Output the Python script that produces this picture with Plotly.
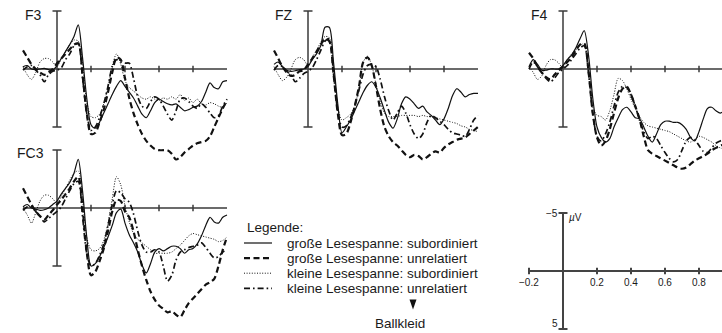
import plotly.graph_objects as go

# ---------------------------------------------------------------------------
# ERP grand averages (µV, negative plotted upward), time in seconds
# ---------------------------------------------------------------------------
times = [-0.2, -0.175, -0.15, -0.125, -0.1, -0.075, -0.05, -0.025,
         0.0, 0.025, 0.05, 0.075, 0.1, 0.125, 0.15, 0.175,
         0.2, 0.225, 0.25, 0.275, 0.3, 0.325, 0.35, 0.375,
         0.4, 0.425, 0.45, 0.475, 0.5, 0.525, 0.55, 0.575,
         0.6, 0.625, 0.65, 0.675, 0.7, 0.725, 0.75, 0.775,
         0.8, 0.825, 0.85, 0.875, 0.9, 0.925, 0.95, 0.975,
         1.0]

condition_labels = ["große Lesespanne: subordiniert",
                    "große Lesespanne: unrelatiert",
                    "kleine Lesespanne: subordiniert",
                    "kleine Lesespanne: unrelatiert"]

electrodes = ["F3", "FZ", "F4", "FC3"]

f3_gross_sub = [-0.2, -0.3, 0.0, 0.05, 0.0, -0.05, 0.05, 0.1,
                -0.3, -0.9, -1.5, -2.1, -2.8, -3.8, -1.0, 2.5,
                4.8, 5.1, 4.6, 3.8, 3.0, 2.2, 1.5, 1.0,
                1.5, 2.0, 2.5, 3.2, 3.9, 4.2, 3.6, 2.9,
                2.6, 2.8, 3.0, 3.1, 3.0, 3.3, 3.6, 3.5,
                3.3, 3.2, 2.8, 2.0, 1.2, 1.6, 1.7, 1.1,
                1.0]
f3_gross_unrel = [-1.6, -1.0, -0.4, 0.0, 0.3, 0.5, 0.3, 0.0,
                  -0.5, -0.9, -1.3, -1.7, -2.1, -2.2, 0.5, 3.8,
                  5.6, 5.5, 4.6, 3.5, 2.0, 0.3, -1.0, -0.8,
                  0.8, 2.5, 3.8, 4.8, 5.6, 6.2, 6.6, 6.9,
                  7.0, 7.0, 7.0, 7.3, 7.8, 7.6, 7.2, 6.9,
                  6.6, 6.4, 6.3, 6.2, 5.8, 5.0, 4.2, 3.4,
                  2.7]
f3_klein_sub = [-0.2, 0.5, 0.9, 0.3, -0.6, -0.9, -0.9, -0.6,
                -0.2, -0.9, -1.5, -2.1, -2.5, -2.4, -0.5, 2.8,
                4.1, 4.2, 3.9, 3.0, 1.5, -0.3, -1.3, -0.4,
                1.0, 1.6, 1.9, 2.2, 2.5, 2.6, 2.4, 2.6,
                2.7, 2.5, 2.6, 2.4, 2.6, 2.2, 2.7, 2.5,
                2.9, 2.6, 3.0, 3.1, 2.9, 3.0, 3.2, 3.3,
                2.9]
f3_klein_unrel = [0.1, -0.2, -0.3, 0.1, 0.5, 1.1, 0.5, 0.2,
                  0.1, -0.1, -0.8, -1.3, -2.0, -2.2, 0.7, 3.8,
                  5.3, 5.0, 4.2, 3.0, 1.5, -0.2, -0.8, -0.6,
                  -0.5, -0.5, 0.8, 2.4, 3.2, 3.4, 2.8, 2.4,
                  2.6, 3.2, 3.9, 4.4, 3.6, 2.6, 2.5, 2.8,
                  3.2, 3.4, 3.0, 3.3, 3.8, 4.2, 4.0, 3.2,
                  2.6]

fz_gross_sub = [-0.4, -0.6, -0.2, 0.1, 0.2, 0.15, 0.05, 0.0,
                -0.2, -0.8, -1.3, -2.0, -3.6, -3.6, -0.6, 3.0,
                5.5, 5.0, 4.4, 3.6, 2.8, 2.0, 1.4, 1.1,
                1.6, 2.5, 3.6, 4.6, 5.1, 4.3, 3.0, 2.4,
                2.6, 3.0, 3.4, 3.2, 3.7, 4.0, 4.4, 4.8,
                4.3, 3.4, 2.3, 1.7, 2.0, 2.4, 2.2, 2.1,
                2.1]
fz_gross_unrel = [-1.6, -0.9, -0.2, 0.3, 0.6, 0.5, 0.2, 0.1,
                  -0.4, -0.9, -1.5, -2.1, -2.6, -2.4, 0.4, 3.8,
                  5.7, 5.6, 4.6, 3.2, 1.5, -0.6, -1.0, -0.3,
                  1.5, 3.5, 5.0, 5.8, 6.3, 6.6, 7.0, 7.4,
                  7.6, 7.4, 7.5, 7.8, 7.6, 7.3, 7.1, 7.2,
                  6.8, 6.5, 6.3, 6.1, 6.0, 5.9, 5.6, 5.3,
                  5.0]
fz_klein_sub = [-0.2, 0.5, 1.0, 0.7, 0.0, -0.8, -1.0, -0.8,
                -0.3, -1.0, -1.6, -2.3, -2.8, -2.7, -0.1, 3.2,
                4.4, 4.2, 3.9, 3.2, 1.6, -0.6, -1.1, -0.3,
                1.3, 2.8, 3.8, 4.1, 4.1, 4.1, 4.0, 4.0,
                4.0, 4.0, 4.1, 4.0, 4.1, 4.1, 4.2, 4.3,
                4.4, 4.5, 4.6, 4.7, 4.9, 5.0, 5.2, 5.3,
                5.4]
fz_klein_unrel = [0.1, -0.3, -0.2, 0.2, 0.5, 1.1, 0.8, 0.4,
                  0.2, -0.1, -0.8, -1.6, -2.4, -2.6, 0.4, 3.6,
                  5.0, 4.9, 4.2, 3.2, 1.8, 0.4, -0.3, -0.4,
                  -0.2, 0.9, 2.4, 3.6, 4.4, 3.8, 3.2, 3.8,
                  4.8, 5.6, 6.0, 5.6, 4.6, 4.0, 4.2, 4.5,
                  4.8, 5.2, 5.5, 5.6, 5.7, 5.8, 5.2, 4.4,
                  4.0]

f4_gross_sub = [-0.2, -0.8, -0.4, 0.1, 0.1, 0.0, 0.0, 0.0,
                -0.3, -0.8, -1.2, -1.8, -2.6, -3.3, -1.2, 2.5,
                5.0, 5.9, 6.3, 6.0, 5.0, 4.2, 3.5, 3.3,
                3.7, 4.2, 4.3, 5.0, 5.8, 6.3, 5.6, 4.8,
                4.5, 4.5, 4.6, 4.6, 4.8, 5.2, 5.9, 6.2,
                5.4, 4.3, 3.4, 3.3, 3.6, 3.8, 3.6, 3.4,
                3.3]
f4_gross_unrel = [-1.4, -0.9, -0.2, 0.3, 0.7, 0.9, 0.5, 0.1,
                  -0.2, -0.6, -1.0, -1.6, -2.1, -2.2, 0.2, 3.8,
                  5.9, 6.6, 6.2, 5.2, 3.8, 2.5, 1.7, 1.5,
                  2.2, 3.2, 4.3, 5.8, 7.0, 7.3, 7.5, 7.7,
                  7.9, 8.1, 8.3, 8.5, 8.6, 8.5, 8.2, 7.9,
                  7.7, 7.5, 7.3, 7.0, 6.8, 6.6, 6.5, 6.4,
                  6.3]
f4_klein_sub = [-0.2, 0.3, 0.9, 0.6, -0.3, -0.8, -0.8, -0.5,
                -0.1, -0.8, -1.3, -1.6, -2.0, -2.2, 0.3, 3.3,
                4.0, 4.1, 4.4, 3.6, 2.2, 0.8, 1.0, 1.7,
                2.6, 3.4, 4.1, 4.6, 4.9, 5.0, 5.1, 5.2,
                5.3, 5.4, 5.6, 5.8, 6.0, 6.2, 6.3, 6.1,
                5.8, 5.9, 6.1, 6.3, 6.6, 6.8, 6.9, 7.0,
                7.0]
f4_klein_unrel = [0.0, -0.6, -0.2, 0.3, 0.8, 1.1, 0.8, 0.3,
                  0.0, -0.3, -0.8, -1.3, -1.8, -2.0, 0.3, 3.8,
                  5.8, 6.2, 5.6, 4.6, 3.2, 2.0, 1.5, 1.6,
                  2.2, 3.2, 4.4, 5.4, 6.0, 5.8, 6.0, 6.6,
                  7.2, 7.7, 8.0, 7.8, 7.0, 6.2, 5.9, 6.1,
                  6.6, 7.1, 7.2, 6.8, 6.4, 6.2, 6.0, 6.0,
                  6.0]

fc3_gross_sub = [-0.1, -0.3, 0.0, 0.1, 0.2, 0.15, 0.0, -0.3,
                 -0.6, -1.2, -1.7, -2.2, -3.0, -4.2, -1.5, 2.5,
                 5.0, 4.8, 4.2, 3.4, 2.5, 1.5, 0.4, 0.1,
                 1.3, 2.3, 3.0, 3.8, 4.9, 5.6, 4.8, 3.8,
                 3.5, 3.7, 3.5, 3.3, 3.3, 3.5, 3.9, 3.6,
                 3.5, 3.1, 2.4, 1.5, 0.8, 1.2, 1.3, 0.8,
                 0.6]
fc3_gross_unrel = [-1.7, -1.0, -0.3, 0.3, 0.7, 1.0, 0.6, 0.2,
                   -0.3, -0.7, -1.2, -1.7, -2.3, -2.7, 0.0, 3.8,
                   5.8, 5.5, 4.6, 3.5, 2.0, 0.3, -0.7, -0.6,
                   0.3, 0.8, 2.0, 3.6, 5.0, 6.2, 7.2, 7.9,
                   8.4, 8.7, 9.0, 8.9, 9.2, 9.4, 8.8, 8.2,
                   7.8, 7.4, 7.0, 6.6, 6.4, 6.1, 5.0, 3.6,
                   2.5]
fc3_klein_sub = [0.0, 0.6, 1.3, 0.4, -0.6, -1.1, -1.1, -0.8,
                 -0.4, -1.0, -1.7, -2.4, -3.0, -3.2, -0.8, 2.5,
                 3.6, 3.7, 3.5, 2.8, 1.3, -0.8, -2.7, -2.0,
                 -0.2, 1.2, 2.2, 2.7, 3.0, 3.3, 3.6, 3.9,
                 3.9, 3.9, 3.9, 3.8, 3.5, 3.2, 2.8, 2.4,
                 2.2, 2.3, 2.4, 2.5, 2.6, 2.7, 2.9, 2.8,
                 2.5]
fc3_klein_unrel = [0.2, -0.1, -0.1, 0.3, 0.7, 1.2, 0.9, 0.6,
                   0.3, -0.1, -0.8, -1.5, -2.1, -2.3, 0.7, 3.9,
                   5.0, 4.8, 4.1, 3.1, 1.5, -0.3, -1.5, -1.3,
                   -0.8, -0.5, 0.5, 2.0, 3.2, 3.8, 3.8, 3.6,
                   3.8, 5.0, 6.3, 5.8, 4.5, 3.8, 3.6, 3.4,
                   3.3, 3.2, 3.0, 3.4, 3.9, 4.3, 4.2, 3.8,
                   3.6]

# calibration axis
scale_ticks = [-0.2, 0.2, 0.4, 0.6, 0.8, 1.0]
scale_tick_text = ["\u22120.2", "0.2", "0.4", "0.6", "0.8", "1.0"]
panel_ticks = [0.2, 0.4, 0.6, 0.8]
amp_limit = 5

# ---------------------------------------------------------------------------
# Layout geometry (pixels)
# ---------------------------------------------------------------------------
W, H = 722, 333
KX = 170.0    # px per second
KY = 11.6     # px per µV
FONT = "Liberation Sans, Arial, Helvetica, sans-serif"
INK = "#1a1a1a"
AXIS = "#3a3a3a"
LEG_SIZE = 13.5

styles = [
    dict(width=1.2, dash="solid"),
    dict(width=2.2, dash="6px,3.5px"),
    dict(width=1.0, dash="1px,1.6px"),
    dict(width=1.7, dash="6px,3px,1.6px,3px"),
]

panels = [
    dict(label="F3", x0=57, y0=69, box=(0, 250, 0, 180), lab=(23, 15),
         data=[f3_gross_sub, f3_gross_unrel, f3_klein_sub, f3_klein_unrel]),
    dict(label="FZ", x0=308, y0=69, box=(250, 500, 0, 180), lab=(273, 15),
         data=[fz_gross_sub, fz_gross_unrel, fz_klein_sub, fz_klein_unrel]),
    dict(label="F4", x0=563, y0=69, box=(500, 722, 0, 180), lab=(529, 15),
         data=[f4_gross_sub, f4_gross_unrel, f4_klein_sub, f4_klein_unrel]),
    dict(label="FC3", x0=57, y0=208, box=(0, 250, 135, 333), lab=(15, 153),
         data=[fc3_gross_sub, fc3_gross_unrel, fc3_klein_sub, fc3_klein_unrel]),
    dict(label=None, x0=563, y0=271, box=(500, 722, 195, 333), lab=None, data=[]),
]

fig = go.Figure()
shapes = []
annotations = []
layout_axes = {}

for i, p in enumerate(panels, start=1):
    left, right, top, bottom = p["box"]
    xa = "xaxis" if i == 1 else f"xaxis{i}"
    ya = "yaxis" if i == 1 else f"yaxis{i}"
    xr = "x" if i == 1 else f"x{i}"
    yr = "y" if i == 1 else f"y{i}"
    layout_axes[xa] = dict(
        domain=[left / W, right / W],
        range=[(left - p["x0"]) / KX, (right - p["x0"]) / KX],
        visible=False, fixedrange=True, anchor=yr)
    layout_axes[ya] = dict(
        domain=[1 - bottom / H, 1 - top / H],
        range=[(bottom - p["y0"]) / KY, (top - p["y0"]) / KY],
        visible=False, fixedrange=True, anchor=xr)

    is_scale = p["label"] is None
    lw = 2.0 if is_scale else 1.5
    col = "#444444" if is_scale else AXIS
    cap = 4.5 / KX
    tk = 3.2 / KY
    # vertical amplitude axis with end caps
    shapes.append(dict(type="line", xref=xr, yref=yr, x0=0, x1=0,
                       y0=-amp_limit, y1=amp_limit,
                       line=dict(color=col, width=lw), layer="below"))
    for yv in (-amp_limit, amp_limit):
        shapes.append(dict(type="line", xref=xr, yref=yr, x0=-cap, x1=cap,
                           y0=yv, y1=yv, line=dict(color=col, width=lw),
                           layer="below"))
    # time axis with ticks
    shapes.append(dict(type="line", xref=xr, yref=yr, x0=times[0],
                       x1=times[-1], y0=0, y1=0,
                       line=dict(color=col, width=lw), layer="below"))
    for tv in (scale_ticks if is_scale else panel_ticks):
        shapes.append(dict(type="line", xref=xr, yref=yr, x0=tv, x1=tv,
                           y0=-tk, y1=tk, line=dict(color=col, width=lw),
                           layer="below"))

    if is_scale:
        for tv, tt in zip(scale_ticks, scale_tick_text):
            annotations.append(dict(x=tv, y=1.0, xref=xr, yref=yr, text=tt,
                                    showarrow=False, xanchor="center",
                                    yanchor="middle",
                                    font=dict(family=FONT, size=10, color=INK)))
        annotations.append(dict(x=-3.5 / KX, y=-amp_limit, xref=xr, yref=yr,
                                text="\u22125", showarrow=False,
                                xanchor="right", yanchor="middle",
                                font=dict(family=FONT, size=10, color=INK)))
        annotations.append(dict(x=-3.5 / KX, y=amp_limit + 0.15, xref=xr,
                                yref=yr, text="5", showarrow=False,
                                xanchor="right", yanchor="bottom",
                                font=dict(family=FONT, size=10, color=INK)))
        annotations.append(dict(x=4 / KX, y=-amp_limit + 0.35, xref=xr,
                                yref=yr, text="<i>\u00b5</i>V",
                                showarrow=False, xanchor="left",
                                yanchor="middle",
                                font=dict(family=FONT, size=10, color=INK)))
        continue

    for vals, st, name in zip(p["data"], styles, condition_labels):
        fig.add_trace(go.Scatter(
            x=times, y=vals, xaxis=xr, yaxis=yr, mode="lines", name=name,
            showlegend=False, hoverinfo="skip",
            line=dict(color="#111111", width=st["width"], dash=st["dash"],
                      shape="spline", smoothing=0.8)))

    lx, ly = p["lab"]
    annotations.append(dict(x=lx / W, y=1 - ly / H, xref="paper",
                            yref="paper", text=p["label"], showarrow=False,
                            xanchor="left", yanchor="middle",
                            font=dict(family=FONT, size=14, color=INK)))

# ---------------------------------------------------------------------------
# Legend block with stimulus marker
# ---------------------------------------------------------------------------
leg_x_line0, leg_x_line1, leg_x_text = 244, 272, 285
leg_title_y = 227
leg_rows_y = [243, 258.1, 273.2, 288.3]
annotations.append(dict(x=245 / W, y=1 - leg_title_y / H, xref="paper",
                        yref="paper", text="Legende:", showarrow=False,
                        xanchor="left", yanchor="middle",
                        font=dict(family=FONT, size=LEG_SIZE, color=INK)))
for ry, st, name in zip(leg_rows_y, styles, condition_labels):
    shapes.append(dict(type="line", xref="paper", yref="paper",
                       x0=leg_x_line0 / W, x1=leg_x_line1 / W,
                       y0=1 - ry / H, y1=1 - ry / H,
                       line=dict(color="#111111", width=st["width"],
                                 dash=st["dash"])))
    annotations.append(dict(x=leg_x_text / W, y=1 - ry / H, xref="paper",
                            yref="paper", text=name, showarrow=False,
                            xanchor="left", yanchor="middle",
                            font=dict(family=FONT, size=LEG_SIZE, color=INK)))

# downward marker and target word
ax_c, ay_top, ay_bot, a_half = 413, 299.5, 309.5, 3.5
shapes.append(dict(type="path", xref="paper", yref="paper",
                   path=(f"M {(ax_c - a_half) / W},{1 - ay_top / H} "
                         f"L {(ax_c + a_half) / W},{1 - ay_top / H} "
                         f"L {ax_c / W},{1 - ay_bot / H} Z"),
                   fillcolor="#111111", line=dict(width=0)))
annotations.append(dict(x=400 / W, y=1 - 323 / H, xref="paper", yref="paper",
                        text="Ballkleid", showarrow=False, xanchor="center",
                        yanchor="middle",
                        font=dict(family=FONT, size=LEG_SIZE, color=INK)))

fig.update_layout(
    width=W, height=H, autosize=False,
    margin=dict(l=0, r=0, t=0, b=0),
    paper_bgcolor="white", plot_bgcolor="rgba(0,0,0,0)",
    showlegend=False, shapes=shapes, annotations=annotations,
    **layout_axes)

fig.write_html("out.html", config={"displayModeBar": False})
